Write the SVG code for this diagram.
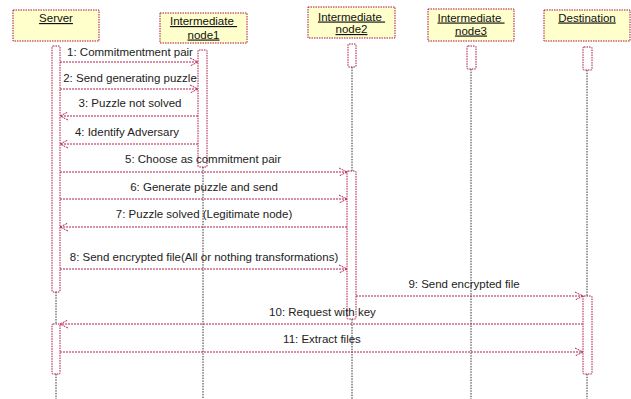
<svg xmlns="http://www.w3.org/2000/svg" width="631" height="399" viewBox="0 0 631 399">
<defs>
<style>
.hdr{fill:#ffffcc;stroke:#a8123f;stroke-width:1;stroke-dasharray:1.5,1}
.act{fill:#ffffff;stroke:#a8123f;stroke-width:1;stroke-dasharray:1.5,1}
.ll{stroke:#333;stroke-width:1;stroke-dasharray:1.5,1.2;fill:none}
.msg{stroke:#b0204f;stroke-width:1;stroke-dasharray:2,1;fill:none;marker-end:url(#ah)}
.ht{font-family:"Liberation Sans",Arial,sans-serif;font-size:11.5px;fill:#111;text-anchor:middle;text-decoration:underline}
.mt{font-family:"Liberation Sans",Arial,sans-serif;font-size:11.5px;fill:#222;text-anchor:middle}
</style>
<marker id="ah" markerWidth="10" markerHeight="10" refX="9" refY="5" orient="auto" markerUnits="userSpaceOnUse">
<path d="M1,1 L9,5 L1,9" fill="none" stroke="#b0204f" stroke-width="1" stroke-dasharray="2,1"/>
</marker>
</defs>

<g id="lifelines">
<line class="ll" x1="56" y1="292" x2="56" y2="324"/>
<line class="ll" x1="56" y1="374" x2="56" y2="399"/>
<line class="ll" x1="203" y1="167" x2="203" y2="399"/>
<line class="ll" x1="352" y1="67" x2="352" y2="171"/>
<line class="ll" x1="352" y1="319" x2="352" y2="399"/>
<line class="ll" x1="471" y1="69" x2="471" y2="399" stroke="#555"/>
<line class="ll" x1="587" y1="70" x2="587" y2="296"/>
<line class="ll" x1="587" y1="374" x2="587" y2="399"/>
</g>

<g id="server">
<rect class="hdr" x="13" y="10" width="86" height="31"/>
<text class="ht" x="56" y="22">Server</text>
<rect class="act" x="52" y="46" width="8" height="246" rx="1"/>
<rect class="act" x="52" y="324" width="8" height="50" rx="1"/>
</g>

<g id="node1">
<rect class="hdr" x="160" y="13" width="87" height="30"/>
<text class="ht" x="203.5" y="25" xml:space="preserve">Intermediate </text>
<text class="ht" x="203.5" y="38.5">node1</text>
<rect class="act" x="198" y="50" width="9" height="117" rx="1"/>
</g>

<g id="node2">
<rect class="hdr" x="308" y="7" width="87" height="31"/>
<text class="ht" x="351.5" y="20.5" xml:space="preserve">Intermediate </text>
<text class="ht" x="351.5" y="33">node2</text>
<rect class="act" x="348" y="44" width="8" height="23" rx="1"/>
<rect class="act" x="347" y="171" width="9" height="148" rx="1"/>
</g>

<g id="node3">
<rect class="hdr" x="428" y="9" width="86" height="32"/>
<text class="ht" x="471" y="21.5" xml:space="preserve">Intermediate </text>
<text class="ht" x="471" y="34.5">node3</text>
<rect class="act" x="467" y="46" width="9" height="23" rx="1"/>
</g>

<g id="destination">
<rect class="hdr" x="544" y="10" width="86" height="31"/>
<text class="ht" x="587" y="21.5">Destination</text>
<rect class="act" x="583" y="47" width="9" height="23" rx="1"/>
<rect class="act" x="583" y="296" width="9" height="78" rx="1"/>
</g>

<g id="connectors">
<line class="msg" x1="60" y1="62" x2="198" y2="62"/>
<line class="msg" x1="60" y1="89" x2="198" y2="89"/>
<line class="msg" x1="198" y1="116" x2="60" y2="116"/>
<line class="msg" x1="198" y1="144" x2="60" y2="144"/>
<line class="msg" x1="60" y1="172" x2="347" y2="172"/>
<line class="msg" x1="60" y1="199" x2="347" y2="199"/>
<line class="msg" x1="347" y1="227" x2="60" y2="227"/>
<line class="msg" x1="60" y1="269" x2="347" y2="269"/>
<line class="msg" x1="356" y1="296" x2="583" y2="296"/>
<line class="msg" x1="583" y1="324" x2="60" y2="324"/>
<line class="msg" x1="60" y1="352" x2="583" y2="352"/>
</g>

<g id="labels">
<text class="mt" x="130" y="55.5">1: Commitmentment pair</text>
<text class="mt" x="130" y="81.5">2: Send generating puzzle</text>
<text class="mt" x="130" y="106.5">3: Puzzle not solved</text>
<text class="mt" x="127" y="136">4: Identify Adversary</text>
<text class="mt" x="203" y="163">5: Choose as commitment pair</text>
<text class="mt" x="204" y="191">6: Generate puzzle and send</text>
<text class="mt" x="204" y="218">7: Puzzle solved (Legitimate node)</text>
<text class="mt" x="204" y="261">8: Send encrypted file(All or nothing transformations)</text>
<text class="mt" x="464" y="288">9: Send encrypted file</text>
<text class="mt" x="322.5" y="316">10: Request with key</text>
<text class="mt" x="322" y="343">11: Extract files</text>
</g>
</svg>
